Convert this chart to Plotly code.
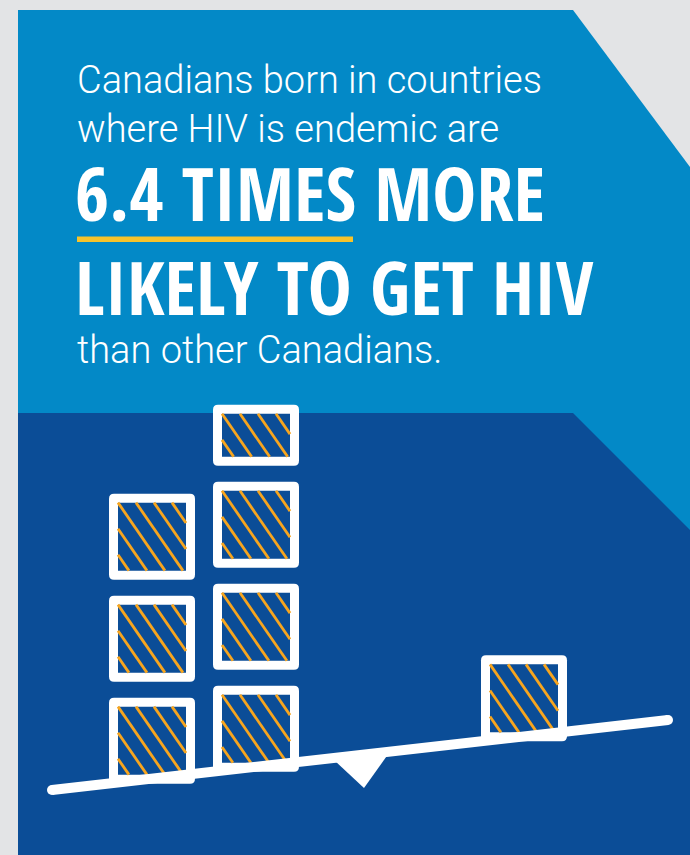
import math
import plotly.graph_objects as go

# ---------------- data ----------------
groups = ["Born in countries where HIV is endemic", "Other Canadians"]
relative_likelihood = [6.4, 1.0]
text_line_1 = "Canadians born in countries"
text_line_2 = "where HIV is endemic are"
bold_line_1 = "6.4 TIMES MORE"
bold_line_2 = "LIKELY TO GET HIV"
text_line_3 = "than other Canadians."

# ---------------- style ----------------
W, H = 690, 855
GRAY = "#e3e4e6"
LIGHT = "#0389c7"
DARK = "#0b4d97"
ORANGE = "#f7a51e"
YELLOW = "#f8c32b"
WHITE = "#ffffff"

BEAM = (52, 790, 668, 720)          # seesaw beam end points (pixel space)
BEAM_W = 10
BOX = 86
BORDER = 9
GAP = 16
RADIUS = 5
PARTIAL_H = 61
PER_COL = 3
GROUP_COL_LEFT = [[109, 213], [481]]
HATCH_STEP = 18
HATCH_K = 0.69
HATCH_W = 2.8


def beam_y(x):
    x0, y0, x1, y1 = BEAM
    return y0 + (x - x0) * (y1 - y0) / (x1 - x0)


def rrect(x0, y0, x1, y1, r):
    return (f"M{x0+r},{y0} L{x1-r},{y0} Q{x1},{y0} {x1},{y0+r} "
            f"L{x1},{y1-r} Q{x1},{y1} {x1-r},{y1} L{x0+r},{y1} "
            f"Q{x0},{y1} {x0},{y1-r} L{x0},{y0+r} Q{x0},{y0} {x0+r},{y0} Z")


shapes = []
# panels
shapes.append(dict(type="path", layer="below", line=dict(width=0), fillcolor=LIGHT,
                   path="M18,10 L573,10 L690,167 L690,855 L18,855 Z"))
shapes.append(dict(type="path", layer="below", line=dict(width=0), fillcolor=DARK,
                   path="M18,413 L573,413 L690,530 L690,855 L18,855 Z"))
# underline of "6.4 TIMES"
shapes.append(dict(type="rect", layer="below", line=dict(width=0), fillcolor=YELLOW,
                   x0=77, x1=353, y0=236.5, y1=242))

hx, hy = [], []


def add_box(left, top, bottom):
    right = left + BOX
    shapes.append(dict(type="path", layer="below", line=dict(width=0), fillcolor=WHITE,
                       path=rrect(left, top, right, bottom, RADIUS)))
    ix0, iy0, ix1, iy1 = left + BORDER, top + BORDER, right - BORDER, bottom - BORDER
    shapes.append(dict(type="rect", layer="below", line=dict(width=0), fillcolor=DARK,
                       x0=ix0, x1=ix1, y0=iy0, y1=iy1))
    h = iy1 - iy0
    n_min = -int(math.ceil(HATCH_K * h / HATCH_STEP)) - 1
    n_max = int(math.ceil((ix1 - ix0) / HATCH_STEP)) + 1
    for n in range(n_min, n_max + 1):
        a = ix0 + n * HATCH_STEP
        ys = iy0 + max(0.0, (ix0 - a) / HATCH_K)
        ye = iy0 + min(h, (ix1 - a) / HATCH_K)
        if ye - ys > 0.5:
            hx.extend([a + HATCH_K * (ys - iy0), a + HATCH_K * (ye - iy0), None])
            hy.extend([ys, ye, None])


for g, value in enumerate(relative_likelihood):
    cols = GROUP_COL_LEFT[g]
    n_full = int(math.floor(value + 1e-9))
    frac = value - n_full
    for i in range(n_full):
        c, r = i // PER_COL, i % PER_COL
        left = cols[c]
        base = beam_y(left + BOX / 2) + 5
        bottom = base - r * (BOX + GAP)
        add_box(left, bottom - BOX, bottom)
    if frac > 1e-6:
        i = n_full - 1
        c, r = i // PER_COL, i % PER_COL + 1
        left = cols[c]
        base = beam_y(left + BOX / 2) + 5
        bottom = base - r * (BOX + GAP)
        add_box(left, bottom - PARTIAL_H, bottom)

# seesaw beam, caps and fulcrum (above boxes)
bx0, by0, bx1, by1 = BEAM
shapes.append(dict(type="line", layer="above", x0=bx0, y0=by0, x1=bx1, y1=by1,
                   line=dict(color=WHITE, width=BEAM_W)))
for (cx, cy) in [(bx0, by0), (bx1, by1)]:
    shapes.append(dict(type="circle", layer="above", line=dict(width=0), fillcolor=WHITE,
                       x0=cx - BEAM_W / 2, x1=cx + BEAM_W / 2, y0=cy - BEAM_W / 2, y1=cy + BEAM_W / 2))
fx_l, fx_r, fx_c, f_apex = 332, 390, 364, 788
shapes.append(dict(type="path", layer="above", line=dict(width=0), fillcolor=WHITE,
                   path=f"M{fx_l},{beam_y(fx_l)} L{fx_r},{beam_y(fx_r)} L{fx_c},{f_apex} Z"))

fig = go.Figure()
fig.add_trace(go.Scatter(x=hx, y=hy, mode="lines", hoverinfo="skip", showlegend=False,
                         line=dict(color=ORANGE, width=HATCH_W)))

light_font = dict(family="Roboto, 'Open Sans', sans-serif", size=38, color=WHITE, weight=300)
bold_font = dict(family="'Open Sans Condensed', 'Open Sans', 'DejaVu Sans Condensed', sans-serif",
                 size=74, color=WHITE, weight="bold")


def condensed(t):
    return f'<span style="font-stretch:75%">{t}</span>'


annotations = [
    dict(text=text_line_1, x=75, y=79.5, font=light_font),
    dict(text=text_line_2, x=75, y=128.5, font=light_font),
    dict(text=condensed(bold_line_1), x=73, y=192, font=bold_font),
    dict(text=condensed(bold_line_2), x=73, y=286, font=bold_font),
    dict(text=text_line_3, x=75, y=349.5, font=light_font),
]
for a in annotations:
    a.update(xref="x", yref="y", xanchor="left", yanchor="middle", showarrow=False)

fig.update_layout(
    width=W, height=H, margin=dict(l=0, r=0, t=0, b=0),
    paper_bgcolor=GRAY, plot_bgcolor=GRAY,
    shapes=shapes, annotations=annotations, showlegend=False,
    xaxis=dict(range=[0, W], visible=False, fixedrange=True),
    yaxis=dict(range=[H, 0], visible=False, fixedrange=True),
)
fig.write_html("out.html", config={"displayModeBar": False})
